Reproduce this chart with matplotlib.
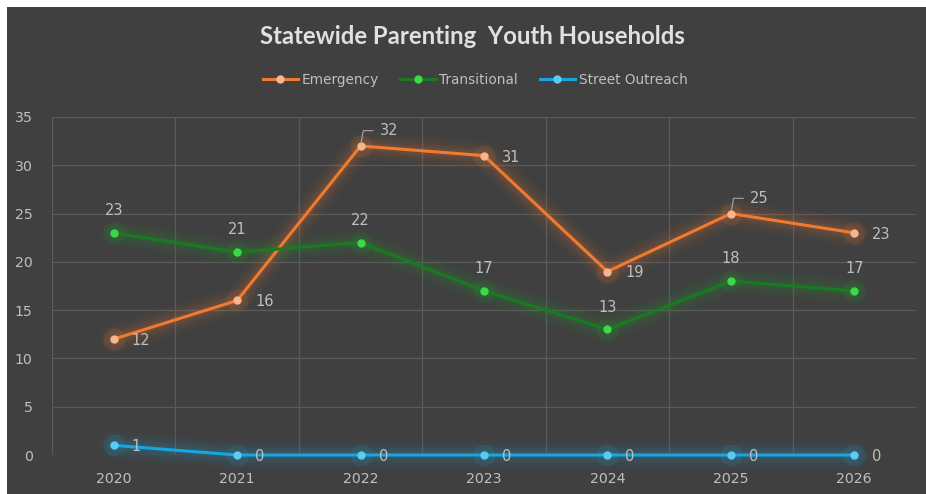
import matplotlib.pyplot as plt
from matplotlib.patches import Rectangle
from matplotlib.lines import Line2D

# data
years = ['2020', '2021', '2022', '2023', '2024', '2025', '2026']
emergency = [12, 16, 32, 31, 19, 25, 23]
transitional = [23, 21, 22, 17, 13, 18, 17]
street = [1, 0, 0, 0, 0, 0, 0]

bg = '#404040'
txt = '#BFBFBF'

fig = plt.figure(figsize=(9.26, 4.94), dpi=100, facecolor='white')
# dark chart area (thin white margin on top/left like the screenshot)
fig.patches.append(Rectangle((7/926, 0), 1, 1 - 7/494, transform=fig.transFigure,
                             facecolor=bg, edgecolor='none', zorder=-10))

ax = fig.add_axes([52/926, 39/494, 864/926, 338/494])
ax.set_facecolor(bg)
x = list(range(len(years)))

series = [
    (emergency, '#F07A30', '#F6B690', '#F07A30', 'Emergency'),
    (transitional, '#1A7A22', '#3DD84A', '#22A02C', 'Transitional'),
    (street, '#18A6E0', '#5CCBF2', '#18A6E0', 'Street Outreach'),
]

for vals, lc, mc, gc, name in series:
    # soft glow underneath
    for lw, a in [(20, 0.035), (15, 0.05), (10, 0.07), (6, 0.09)]:
        ax.plot(x, vals, color=gc, lw=lw, alpha=a, solid_capstyle='round',
                solid_joinstyle='round', clip_on=False, zorder=2)
    ax.plot(x, vals, 'o', color=gc, ms=16, alpha=0.12, mec='none', clip_on=False, zorder=2)
    ax.plot(x, vals, color=lc, lw=2.2, marker='o', ms=5, mfc=mc, mec=mc,
            clip_on=False, zorder=3)

# data labels
for i, v in enumerate(emergency):
    if i in (2, 5):
        ax.annotate(str(v), (i, v), xytext=(14, 11), textcoords='offset points',
                    color=txt, fontsize=10.5, ha='left', va='center',
                    arrowprops=dict(arrowstyle='-', color='#A6A6A6', lw=0.8,
                                    shrinkA=3, shrinkB=3,
                                    connectionstyle='angle,angleA=0,angleB=80'))
    else:
        ax.annotate(str(v), (i, v), xytext=(13, -1), textcoords='offset points',
                    color=txt, fontsize=10.5, ha='left', va='center')
for i, v in enumerate(transitional):
    ax.annotate(str(v), (i, v), xytext=(0, 16), textcoords='offset points',
                color=txt, fontsize=10.5, ha='center', va='center')
for i, v in enumerate(street):
    ax.annotate(str(v), (i, v), xytext=(13, -1), textcoords='offset points',
                color=txt, fontsize=10.5, ha='left', va='center')

ax.set_xlim(-0.5, 6.5)
ax.set_ylim(0, 35)
ax.set_yticks(range(0, 36, 5))
ax.set_xticks(x)
ax.set_xticklabels(years)
ax.set_xticks([k - 0.5 for k in range(8)], minor=True)
ax.grid(True, axis='y', color='#5A5A5A', lw=0.9)
ax.grid(True, axis='x', which='minor', color='#5A5A5A', lw=0.9)
ax.set_axisbelow(True)
ax.tick_params(which='both', length=0, colors=txt, labelsize=10.2)
ax.tick_params(axis='y', pad=14)
ax.tick_params(axis='x', pad=12)
for s in ax.spines.values():
    s.set_visible(False)

fig.text(472/926, 1 - 37/494, 'Statewide Parenting  Youth Households', ha='center',
         va='center', fontsize=17.2, fontweight='bold', color='#E0E0E0', family='Lato')

handles = [Line2D([], [], color=lc, lw=2.2, marker='o', ms=5, mfc=mc, mec=mc)
           for _, lc, mc, _, _ in series]
fig.legend(handles, [s[4] for s in series], loc='center', ncol=3,
           bbox_to_anchor=(475/926, 1 - 80/494), frameon=False, fontsize=9.8,
           labelcolor=txt, handlelength=2.6, handletextpad=0.25, columnspacing=1.6)

fig.savefig('out.png', dpi=100, facecolor='white')
